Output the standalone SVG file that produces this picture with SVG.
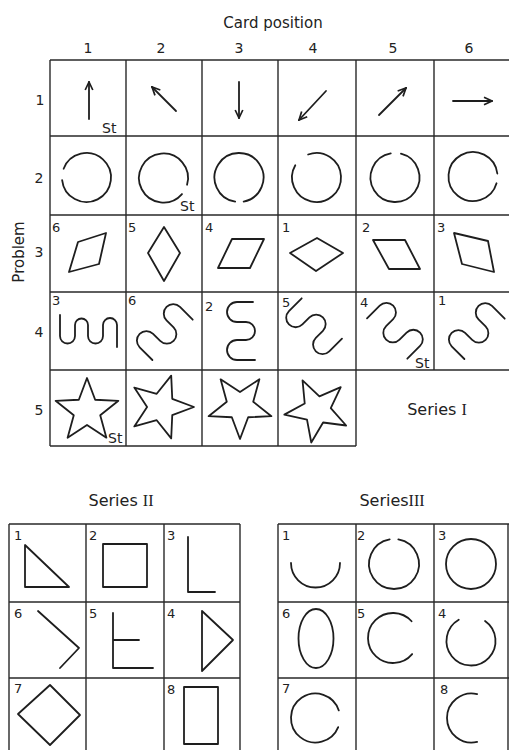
<svg xmlns="http://www.w3.org/2000/svg" xmlns:xlink="http://www.w3.org/1999/xlink" width="509" height="750" viewBox="0 0 509 750">
<style>
.g{stroke:#2a2a2a;stroke-width:1.4;fill:none}
.s{stroke:#1e1e1e;stroke-width:1.8;fill:none;stroke-linejoin:round;stroke-linecap:round}
text{font-family:"DejaVu Sans","Liberation Sans",sans-serif;fill:#222}
.h{font-size:15px}
.d{font-size:14px;text-anchor:middle}
.n{font-size:13px}
.st{font-size:14px}
.ser{font-size:16px;text-anchor:middle}
.rn{font-family:"Liberation Serif",serif}
</style>
<defs>
<marker id="ah" viewBox="0 0 10 10" refX="9" refY="5" markerWidth="10" markerHeight="10" orient="auto" markerUnits="userSpaceOnUse">
<path d="M1,1.2 L9,5 L1,8.8" fill="none" stroke="#1e1e1e" stroke-width="1.7" stroke-linejoin="miter"/>
</marker>
<polygon id="star" points="0,-33 8.17,-11.25 31.39,-10.2 13.22,4.3 19.4,26.7 0,13.9 -19.4,26.7 -13.22,4.3 -31.39,-10.2 -8.17,-11.25"/>
<path id="mea" d="M13,-29 H-5 A9.5,9.5 0 0 0 -5,-10 H5 A9.5,9.5 0 0 1 5,9 H-5 A9.5,9.5 0 0 0 -5,28 H13"/>
</defs>
<rect width="509" height="750" fill="#fff"/>

<g id="labels">
<text class="h" x="273" y="28" text-anchor="middle">Card position</text>
<text class="d" x="88" y="53">1</text>
<text class="d" x="161" y="53">2</text>
<text class="d" x="239" y="53">3</text>
<text class="d" x="313" y="53">4</text>
<text class="d" x="393" y="53">5</text>
<text class="d" x="469" y="53">6</text>
<text class="d" x="40" y="105">1</text>
<text class="d" x="39" y="183">2</text>
<text class="d" x="39" y="257">3</text>
<text class="d" x="39" y="337">4</text>
<text class="d" x="39" y="415">5</text>
<text class="h" transform="translate(24,252) rotate(-90)" text-anchor="middle" font-size="16">Problem</text>
<text class="ser" x="437" y="415">Series <tspan class="rn">I</tspan></text>
<text class="ser" x="121" y="506">Series <tspan class="rn">II</tspan></text>
<text class="ser" x="392" y="506">Series<tspan class="rn">III</tspan></text>
</g>

<g id="grid" class="g">
<path d="M50,60 H509 M50,136 H509 M50,215 H509 M50,292 H509 M50,370 H509 M50,446 H356"/>
<path d="M50,60 V446 M126,60 V446 M202,60 V446 M278,60 V446 M356,60 V446 M434,60 V370"/>
<path d="M9,524 H240 M9,602 H240 M9,678 H240 M9,524 V752 M86,524 V752 M164,524 V752 M240,524 V752"/>
<path d="M278,524 H509 M278,602 H509 M278,678 H509 M278,524 V752 M356,524 V752 M434,524 V752 M508,524 V752"/>
</g>

<g id="connectors"></g>

<g id="p1c1"><line class="s" x1="89" y1="119" x2="89" y2="82" marker-end="url(#ah)"/><text class="st" x="102" y="133">St</text></g>
<g id="p1c2"><line class="s" x1="176" y1="111" x2="152" y2="87" marker-end="url(#ah)"/></g>
<g id="p1c3"><line class="s" x1="239" y1="82" x2="239" y2="118" marker-end="url(#ah)"/></g>
<g id="p1c4"><line class="s" x1="326" y1="91" x2="299" y2="120" marker-end="url(#ah)"/></g>
<g id="p1c5"><line class="s" x1="379" y1="115" x2="406" y2="88" marker-end="url(#ah)"/></g>
<g id="p1c6"><line class="s" x1="453" y1="101" x2="492" y2="101" marker-end="url(#ah)"/></g>

<g id="p2c1"><path class="s" d="M63.63,168.72 A24.5,24.5 0 1 1 62.13,180.06"/></g>
<g id="p2c2"><path class="s" d="M181.99,194.07 A24.5,24.5 0 1 1 187.05,184.75"/><text class="st" x="180" y="211">St</text></g>
<g id="p2c3"><path class="s" d="M235.17,201.7 A24.5,24.5 0 1 1 243.67,201.55"/></g>
<g id="p2c4"><path class="s" d="M308.12,154.48 A24.5,24.5 0 1 1 295.28,165.25"/></g>
<g id="p2c5"><path class="s" d="M400.93,153.73 A24.5,24.5 0 1 1 390.75,153.37"/></g>
<g id="p2c6"><path class="s" d="M496.55,183.25 A24.5,24.5 0 1 1 497.32,173.51"/></g>

<g id="p3c1"><text class="n" x="52" y="232">6</text><polygon class="s" points="78,242 106,233 99,264 69,272"/></g>
<g id="p3c2"><text class="n" x="128" y="232">5</text><polygon class="s" points="164,227 180,253 164,281 148,253"/></g>
<g id="p3c3"><text class="n" x="205" y="232">4</text><polygon class="s" points="232,239 264,239 250,268 218,268"/></g>
<g id="p3c4"><text class="n" x="282" y="232">1</text><polygon class="s" points="290,253 317,238 343,253 316,271"/></g>
<g id="p3c5"><text class="n" x="362" y="232">2</text><polygon class="s" points="373,240 405,240 420,269 389,269"/></g>
<g id="p3c6"><text class="n" x="437" y="232">3</text><polygon class="s" points="454,233 488,241 494,272 462,264"/></g>

<g id="p4c1"><text class="n" x="52" y="305">3</text><path class="s" d="M60,315 V336 A7.5,7.5 0 0 0 75,336 V325 A6.5,6.5 0 0 1 88,325 V336 A7.5,7.5 0 0 0 103,336 V325 A7,7 0 0 1 117,325 V347"/></g>
<g id="p4c2"><text class="n" x="128" y="305">6</text><use xlink:href="#mea" href="#mea" class="s" transform="translate(163,331) rotate(45)"/></g>
<g id="p4c3"><text class="n" x="205" y="311">2</text><path class="s" d="M253,302 H237 A10,10 0 0 0 237,322 H246 A9,9 0 0 1 246,340 H237 A10,10 0 0 0 237,360 H255"/></g>
<g id="p4c4"><text class="n" x="282" y="307">5</text><use xlink:href="#mea" href="#mea" class="s" transform="translate(313,328) rotate(-45)"/></g>
<g id="p4c5"><text class="n" x="360" y="307">4</text><use xlink:href="#mea" href="#mea" class="s" transform="translate(396,329) rotate(135)"/><text class="st" x="415" y="368">St</text></g>
<g id="p4c6"><text class="n" x="438" y="305">1</text><use xlink:href="#mea" href="#mea" class="s" transform="translate(475,330) rotate(45)"/></g>

<g id="p5c1"><use xlink:href="#star" href="#star" class="s" transform="translate(87,411)"/><text class="st" x="108" y="443">St</text></g>
<g id="p5c2"><use xlink:href="#star" href="#star" class="s" transform="translate(161,407) rotate(90)"/></g>
<g id="p5c3"><use xlink:href="#star" href="#star" class="s" transform="translate(240,406) rotate(180)"/></g>
<g id="p5c4"><use xlink:href="#star" href="#star" class="s" transform="translate(317,410) rotate(-98)"/></g>

<g id="s2c1"><text class="n" x="14" y="540">1</text><polygon class="s" points="25,545 25,587 69,587"/></g>
<g id="s2c2"><text class="n" x="89" y="540">2</text><rect class="s" x="103" y="544" width="44" height="43"/></g>
<g id="s2c3"><text class="n" x="167" y="540">3</text><polyline class="s" points="188,537 188,592 215,592"/></g>
<g id="s2c6"><text class="n" x="14" y="618">6</text><polyline class="s" points="38,611 79,648 60,668"/></g>
<g id="s2c5"><text class="n" x="89" y="618">5</text><path class="s" d="M113,613 V668 H153 M113,640 H139"/></g>
<g id="s2c4"><text class="n" x="167" y="618">4</text><polygon class="s" points="202,611 233,640 202,671"/></g>
<g id="s2c7"><text class="n" x="14" y="693">7</text><polygon class="s" points="50,685 80,715 50,745 18,714"/></g>
<g id="s2c8"><text class="n" x="167" y="694">8</text><rect class="s" x="184" y="687" width="34" height="57"/></g>

<g id="s3c1"><text class="n" x="282" y="540">1</text><path class="s" d="M291,563 A24.5,24.5 0 0 0 340,563"/></g>
<g id="s3c2"><text class="n" x="357" y="540">2</text><path class="s" d="M398.34,539.38 A25,25 0 1 1 389.66,539.38"/></g>
<g id="s3c3"><text class="n" x="438" y="540">3</text><circle class="s" cx="471" cy="564" r="25"/></g>
<g id="s3c6"><text class="n" x="282" y="618">6</text><ellipse class="s" cx="316" cy="638.5" rx="17.5" ry="29.5"/></g>
<g id="s3c5"><text class="n" x="357" y="618">5</text><path class="s" d="M411.58,621.27 A25,25 0 1 0 412.15,654.07"/></g>
<g id="s3c4"><text class="n" x="438" y="618">4</text><path class="s" d="M485.05,620.93 A24.5,24.5 0 1 1 458.75,619.78"/></g>
<g id="s3c7"><text class="n" x="282" y="693">7</text><path class="s" d="M338.22,727.18 A24.5,24.5 0 1 1 338.8,710.43"/></g>
<g id="s3c8"><text class="n" x="440" y="694">8</text><path class="s" d="M477.13,694.03 A24.6,24.6 0 1 0 477.13,741.97"/></g>
</svg>
